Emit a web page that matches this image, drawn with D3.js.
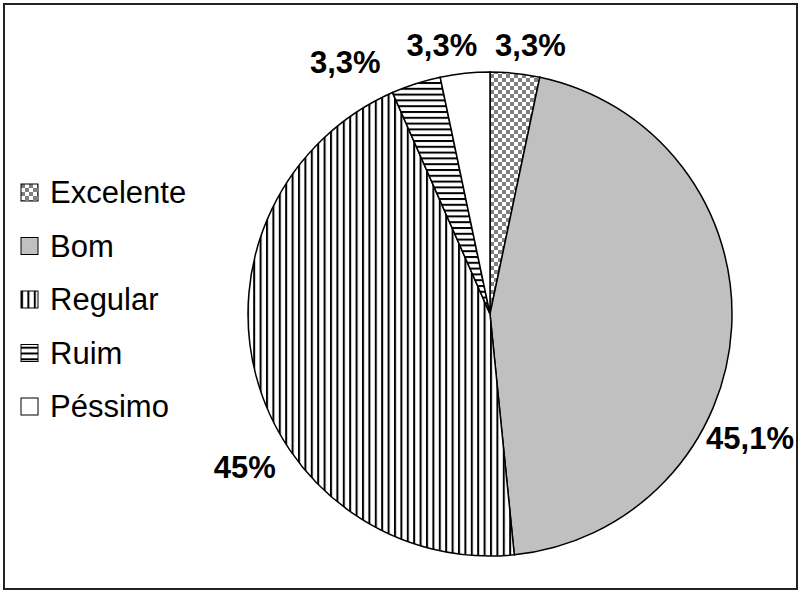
<!DOCTYPE html>
<html>
<head>
<meta charset="utf-8">
<script src="https://cdn.jsdelivr.net/npm/d3@7"></script>
<style>
  body { margin: 0; background: #fff; }
  svg text { font-family: "Liberation Sans", Arial, sans-serif; }
</style>
</head>
<body>
<div id="chart"></div>
<script>
// Chart data
var categories = ["Excelente", "Bom", "Regular", "Ruim", "Péssimo"];
var percents = [3.3, 45.1, 45, 3.3, 3.3];
var labelTexts = ["3,3%", "45,1%", "45%", "3,3%", "3,3%"];

var svgWidth = 800;
var svgHeight = 591;

var svg = d3.select("#chart")
  .append("svg")
  .attr("width", svgWidth)
  .attr("height", svgHeight);

// patterns used as fills
var defs = svg.append("defs");

var checker = defs.append("pattern")
  .attr("id", "pat-excelente")
  .attr("patternUnits", "userSpaceOnUse")
  .attr("width", 8).attr("height", 8);
checker.append("rect").attr("width", 8).attr("height", 8).attr("fill", "#fff");
checker.append("rect").attr("width", 4).attr("height", 4).attr("fill", "#808080");
checker.append("rect").attr("x", 4).attr("y", 4).attr("width", 4).attr("height", 4).attr("fill", "#808080");

var vlines = defs.append("pattern")
  .attr("id", "pat-regular")
  .attr("patternUnits", "userSpaceOnUse")
  .attr("width", 6.4).attr("height", 6);
vlines.append("rect").attr("width", 6.4).attr("height", 6).attr("fill", "#fff");
vlines.append("rect").attr("width", 2).attr("height", 6).attr("fill", "#000");

var hlines = defs.append("pattern")
  .attr("id", "pat-ruim")
  .attr("patternUnits", "userSpaceOnUse")
  .attr("width", 6).attr("height", 5.8);
hlines.append("rect").attr("width", 6).attr("height", 5.8).attr("fill", "#fff");
hlines.append("rect").attr("width", 6).attr("height", 2).attr("fill", "#000");

var fills = d3.scaleOrdinal()
  .domain(categories)
  .range(["url(#pat-excelente)", "#c0c0c0", "url(#pat-regular)", "url(#pat-ruim)", "#fff"]);

// outer frame
svg.append("rect")
  .attr("x", 4).attr("y", 4)
  .attr("width", 793).attr("height", 585)
  .attr("fill", "none")
  .attr("stroke", "#222")
  .attr("stroke-width", 2);

// pie
var cx = 490, cy = 314, radius = 242;

var pieData = categories.map(function(c, i) {
  return { name: c, value: percents[i], label: labelTexts[i] };
});

var pie = d3.pie()
  .value(d => d.value)
  .sort(null);

var arc = d3.arc()
  .innerRadius(0)
  .outerRadius(radius);

var pieGroup = svg.append("g")
  .attr("transform", `translate(${cx}, ${cy})`);

var arcs = pie(pieData);

pieGroup.selectAll("path")
  .data(arcs)
  .enter()
  .append("path")
  .attr("d", arc)
  .attr("fill", d => fills(d.data.name))
  .attr("stroke", "#000")
  .attr("stroke-width", 1.5);

// data labels, placed outside the pie like the original
var labelShift = [2.6, 22.4, -17.2, -12, -4.2]; // degrees
var labelRadius = [272, 288, 289, 291, 273];

pieGroup.selectAll(".pct")
  .data(arcs)
  .enter()
  .append("text")
  .attr("class", "pct")
  .attr("x", (d, i) => {
    var a = (d.startAngle + d.endAngle) / 2 + labelShift[i] * Math.PI / 180;
    return labelRadius[i] * Math.sin(a);
  })
  .attr("y", (d, i) => {
    var a = (d.startAngle + d.endAngle) / 2 + labelShift[i] * Math.PI / 180;
    return -labelRadius[i] * Math.cos(a);
  })
  .attr("dy", "0.36em")
  .attr("text-anchor", "middle")
  .attr("font-size", "31px")
  .attr("font-weight", "bold")
  .attr("fill", "#000")
  .text(d => d.data.label);

// legend
var legendY = d3.scalePoint()
  .domain(categories)
  .range([192, 406]);

var legend = svg.append("g");

var items = legend.selectAll("g")
  .data(categories)
  .enter()
  .append("g")
  .attr("transform", d => `translate(21, ${legendY(d)})`);

items.append("rect")
  .attr("x", 0)
  .attr("y", -8)
  .attr("width", 17)
  .attr("height", 17)
  .attr("fill", d => fills(d))
  .attr("stroke", "#000")
  .attr("stroke-width", 1);

items.append("text")
  .attr("x", 29)
  .attr("y", 0)
  .attr("dy", "0.36em")
  .attr("font-size", "31px")
  .attr("fill", "#000")
  .text(d => d);
</script>
</body>
</html>
